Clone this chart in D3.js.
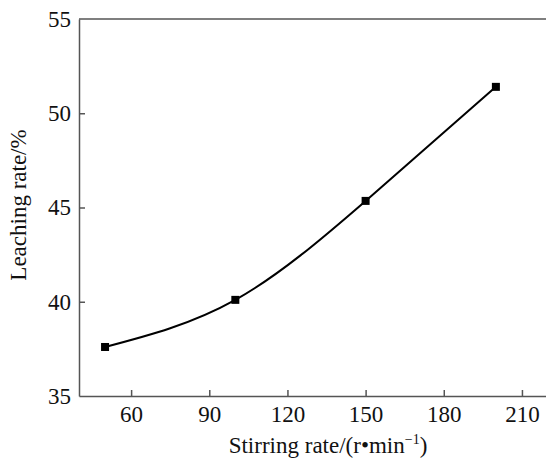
<!DOCTYPE html>
<meta charset="utf-8">
<style>
body { margin: 0; background: #fff; }
svg text { font-family: "Liberation Serif", "DejaVu Serif", serif !important; fill: #111; }
.axis path, .axis line { stroke: #555; stroke-width: 1.5; }
</style>
<svg width="546" height="459"></svg>
<script src="https://d3js.org/d3.v7.min.js"></script>
<script>

var stirring = [50, 100, 150, 200],
    leaching = [37.6, 40.1, 45.35, 51.4],
    xTicks = [60, 90, 120, 150, 180, 210],
    yTicks = [35, 40, 45, 50, 55];

var svg = d3.select("svg"),
    margin = {top: 19, right: -2, bottom: 63, left: 79},
    width = +svg.attr("width") - margin.left - margin.right,
    height = +svg.attr("height") - margin.top - margin.bottom;

var x = d3.scaleLinear().domain([40, 220]).range([0, width]),
    y = d3.scaleLinear().domain([35, 55]).range([height, 0]);

var g = svg.append("g")
    .attr("transform", "translate(" + margin.left + "," + margin.top + ")");

// frame top line
g.append("line")
    .attr("x1", 0).attr("x2", width)
    .attr("y1", 0).attr("y2", 0)
    .attr("stroke", "#555").attr("stroke-width", 1.5);

g.append("g")
    .attr("class", "axis")
    .call(d3.axisBottom(x).tickValues(xTicks).tickSizeInner(-6).tickSizeOuter(0).tickPadding(10))
    .attr("transform", "translate(0," + height + ")")
    .attr("font-size", 23);

g.append("g")
    .attr("class", "axis")
    .call(d3.axisLeft(y).tickValues(yTicks).tickSizeInner(-6).tickSizeOuter(0).tickPadding(8))
    .attr("font-size", 23)
    .call(function(a) {
      a.selectAll(".tick line").filter(function(d) { return d === 35 || d === 55; }).remove();
    });

var line = d3.line()
    .x(function(d) { return x(d[0]); })
    .y(function(d) { return y(d[1]); })
    .curve(d3.curveNatural);

var pts = stirring.map(function(s, i) { return [s, leaching[i]]; });

g.append("path")
    .datum(pts)
    .attr("fill", "none")
    .attr("stroke", "#000")
    .attr("stroke-width", 2)
    .attr("d", line);

g.selectAll(".pt")
    .data(pts)
    .enter().append("rect")
    .attr("class", "pt")
    .attr("x", function(d) { return x(d[0]) - 4; })
    .attr("y", function(d) { return y(d[1]) - 4; })
    .attr("width", 8)
    .attr("height", 8)
    .attr("fill", "#000");

// axis titles
var xt = svg.append("text")
    .attr("x", 328)
    .attr("y", 453)
    .attr("text-anchor", "middle")
    .attr("font-size", 23);
xt.append("tspan").text("Stirring rate/(r\u2022min");
xt.append("tspan").attr("font-size", 14).attr("dy", -9).text("\u22121");
xt.append("tspan").attr("dy", 9).text(")");

svg.append("text")
    .attr("transform", "translate(26,205) rotate(-90)")
    .attr("text-anchor", "middle")
    .attr("font-size", 23)
    .text("Leaching rate/%");

</script>
